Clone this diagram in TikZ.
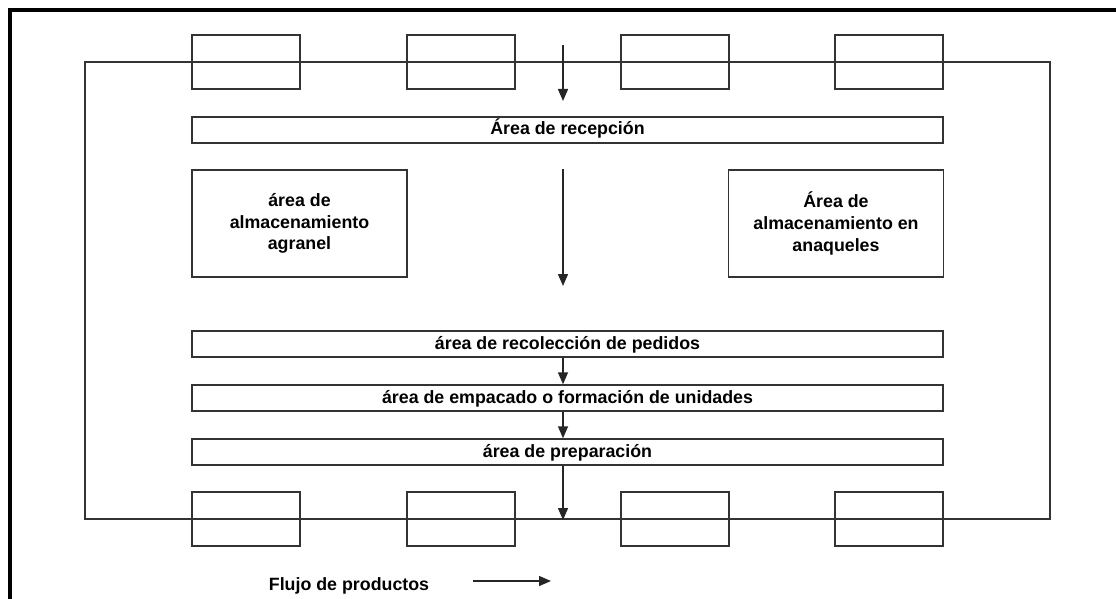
\documentclass[tikz,border=0pt]{standalone}
\usepackage{fontspec}
\setmainfont{Liberation Sans}
\usetikzlibrary{arrows.meta}
\begin{document}
\begin{tikzpicture}[x=1pt,y=-1pt,
  line width=1.4pt,
  lin/.style={draw=black!80, line width=1.4pt},
  bar/.style={lin, rectangle, minimum width=751pt, minimum height=26pt, inner sep=0pt,
    text height=13pt, text depth=3pt,
    font=\fontsize{17.8}{21.7}\selectfont\bfseries},
  area/.style={lin, rectangle, minimum width=215pt, minimum height=107pt, inner sep=0pt,
    align=center, font=\fontsize{17.8}{21.7}\selectfont\bfseries},
  dock/.style={lin, rectangle, minimum width=108pt, minimum height=54pt, inner sep=0pt},
  flow/.style={line width=1.4pt, draw=black!85, -{Triangle[length=12pt,width=10pt]}},
  lbl/.style={font=\fontsize{17.8}{21.7}\selectfont\bfseries, inner sep=0pt}]
\useasboundingbox (0,0) rectangle (1116,599);
% thick frame
\draw[line width=4pt, line cap=rect] (10,599) -- (10,10) -- (1116,10);
% building outline
\draw[lin] (85,62) rectangle (1050,519);
% docks
\foreach \i/\x in {1/246,2/461,3/675,4/889}{
  \node[dock] (t\i) at (\x,62) {};
  \node[dock] (b\i) at (\x,519) {};
}
% areas
\node[bar] (rec) at (567.5,130) {Área de recepción};
\node[area] (gra) at (299.5,223.5) {área de\\almacenamiento\\agranel};
\node[area] (ana) at (836,223.5) {Área de\\almacenamiento en\\anaqueles};
\node[bar] (col) at (567.5,344) {área de recolección de pedidos};
\node[bar] (emp) at (567.5,398) {área de empacado o formación de unidades};
\node[bar] (pre) at (567.5,452) {área de preparación};
% flow arrows
\coordinate (a0) at (563,45);
\coordinate (a1) at (563,101);
\coordinate (m0) at (563,169);
\coordinate (m1) at (563,286);
\coordinate (e1) at (563,520);
\draw[flow] (a0) -- (a1);
\draw[flow] (m0) -- (m1);
\draw[flow] (col.south -| a0) -- (emp.north -| a0);
\draw[flow] (emp.south -| a0) -- (pre.north -| a0);
\draw[flow] (pre.south -| a0) -- (e1);
% legend
\node[lbl] (leg) at (349,586) {Flujo de productos};
\coordinate (l0) at (473,581);
\coordinate (l1) at (551,581);
\draw[flow] (l0) -- (l1);
\end{tikzpicture}
\end{document}
